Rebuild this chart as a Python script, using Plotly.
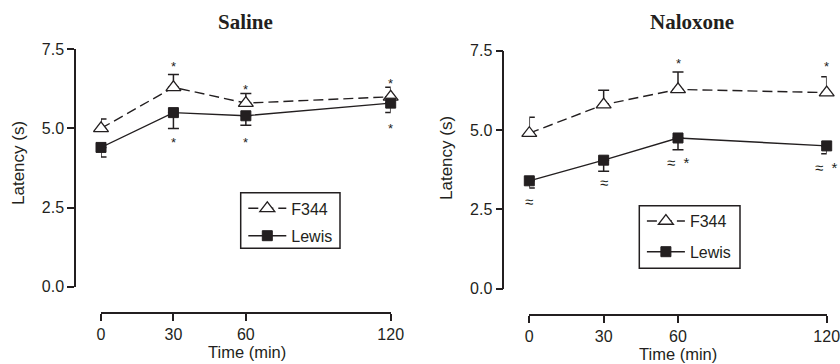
import plotly.graph_objects as go

# ---------------- data ----------------
time_min = [0, 30, 60, 120]
x_ticks = [0, 30, 60, 120]
y_ticks = [0.0, 2.5, 5.0, 7.5]
y_tick_text = ["0.0", "2.5", "5.0", "7.5"]

saline_f344 = [5.0, 6.3, 5.8, 6.0]
saline_f344_err = [0.3, 0.4, 0.3, 0.3]
saline_lewis = [4.4, 5.5, 5.4, 5.8]
saline_lewis_err = [0.3, 0.5, 0.3, 0.3]

naloxone_f344 = [4.9, 5.8, 6.28, 6.18]
naloxone_f344_err = [0.5, 0.45, 0.55, 0.5]
naloxone_lewis = [3.4, 4.05, 4.75, 4.5]
naloxone_lewis_err = [0.23, 0.35, 0.37, 0.25]

# significance marks: (time, latency, text)
saline_marks = [(30, 7.04, "*"), (60, 6.34, "*"), (120, 6.51, "*"),
                (30, 4.64, "*"), (60, 4.64, "*"), (120, 5.09, "*")]
naloxone_marks = [(60, 7.19, "*"), (120, 7.10, "*"),
                  (0, 2.74, "≈"), (30, 3.34, "≈"),
                  (60, 3.97, "≈\u00a0\u00a0*"), (120, 3.81, "≈\u00a0\u00a0*")]

panel_titles = ["Saline", "Naloxone"]
series_names = ["F344", "Lewis"]
x_title = "Time (min)"
y_title = "Latency (s)"

# ---------------- style ----------------
W, H = 840, 364
INK = "#231f20"
SANS = "Liberation Sans, Arial, sans-serif"
SERIF = "Liberation Serif, Times New Roman, serif"


def fx(p):
    return p / W


def fy(p):
    return 1 - p / H


fig = go.Figure()


def add_panel(xa, ya, f_vals, f_err, l_vals, l_err, legend):
    fig.add_trace(go.Scatter(
        x=time_min, y=f_vals, name=series_names[0], mode="lines+markers",
        xaxis=xa, yaxis=ya, legend=legend, legendgroup=legend + "f",
        cliponaxis=False,
        line=dict(color=INK, width=1.4, dash="10px,5px"),
        marker=dict(symbol="triangle-up", size=13, color="white",
                    line=dict(color=INK, width=1.3)),
        error_y=dict(type="data", symmetric=False, array=f_err,
                     arrayminus=[0] * len(f_err), color=INK,
                     thickness=1.5, width=5.5),
    ))
    fig.add_trace(go.Scatter(
        x=time_min, y=l_vals, name=series_names[1], mode="lines+markers",
        xaxis=xa, yaxis=ya, legend=legend, legendgroup=legend + "l",
        cliponaxis=False,
        line=dict(color=INK, width=1.4),
        marker=dict(symbol="square", size=10, color=INK,
                    line=dict(color=INK, width=1)),
        error_y=dict(type="data", symmetric=False, array=[0] * len(l_err),
                     arrayminus=l_err, color=INK, thickness=1.5, width=5.5),
    ))


add_panel("x", "y", saline_f344, saline_f344_err, saline_lewis,
          saline_lewis_err, "legend")
add_panel("x2", "y2", naloxone_f344, naloxone_f344_err, naloxone_lewis,
          naloxone_lewis_err, "legend2")

axis_common = dict(showgrid=False, zeroline=False, showline=True,
                   linecolor=INK, linewidth=1.5, ticks="outside",
                   ticklen=7, tickwidth=1.5, tickcolor=INK,
                   tickfont=dict(family=SANS, size=16, color=INK),
                   ticklabeloverflow="allow", automargin=False)

legend_common = dict(xanchor="left", yanchor="top", borderwidth=0,
                     bgcolor="rgba(0,0,0,0)",
                     font=dict(family=SANS, size=16, color=INK),
                     itemwidth=38, traceorder="grouped")

fig.update_layout(
    width=W, height=H,
    margin=dict(l=0, r=0, t=0, b=0),
    paper_bgcolor="white", plot_bgcolor="white",
    font=dict(family=SANS, size=16, color=INK),
    xaxis=dict(axis_common, domain=[fx(101), fx(390.7)], range=[0, 120],
               tickvals=x_ticks, anchor="free", position=fy(313.3)),
    yaxis=dict(axis_common, domain=[fy(286.7), fy(49.3)], range=[0, 7.5],
               tickvals=y_ticks, ticktext=y_tick_text, anchor="free",
               position=fx(75)),
    xaxis2=dict(axis_common, domain=[fx(529.3), fx(826.7)], range=[0, 120],
                tickvals=x_ticks, anchor="free", position=fy(315)),
    yaxis2=dict(axis_common, domain=[fy(288.7), fy(50.7)], range=[0, 7.5],
                tickvals=y_ticks, ticktext=y_tick_text, anchor="free",
                position=fx(503.3)),
    legend=dict(legend_common, x=fx(243.3), y=fy(191.4), tracegroupgap=3.6),
    legend2=dict(legend_common, x=fx(641.9), y=fy(204.1), tracegroupgap=6.9),
    showlegend=True,
    shapes=[
        dict(type="rect", xref="paper", yref="paper",
             x0=fx(240.7), x1=fx(340), y0=fy(248.3), y1=fy(192.7),
             line=dict(color=INK, width=1.5), fillcolor="white",
             layer="above"),
        dict(type="rect", xref="paper", yref="paper",
             x0=fx(639.3), x1=fx(740), y0=fy(268.3), y1=fy(205.7),
             line=dict(color=INK, width=1.5), fillcolor="white",
             layer="above"),
    ],
)

ann = []
# panel titles
for title, cx in zip(panel_titles, [245.7, 691.7]):
    ann.append(dict(text="<b>%s</b>" % title, x=fx(cx), y=fy(21.7),
                    xref="paper", yref="paper", showarrow=False,
                    xanchor="center", yanchor="middle",
                    font=dict(family=SERIF, size=21, color=INK)))
# axis titles
for cx, cy in [(247.3, 351.7), (678.3, 354.0)]:
    ann.append(dict(text=x_title, x=fx(cx), y=fy(cy), xref="paper",
                    yref="paper", showarrow=False, xanchor="center",
                    yanchor="middle",
                    font=dict(family=SANS, size=16.5, color=INK)))
for cx, cy in [(18, 163), (446.7, 158.3)]:
    ann.append(dict(text=y_title, x=fx(cx), y=fy(cy), xref="paper",
                    yref="paper", showarrow=False, textangle=-90,
                    xanchor="center", yanchor="middle",
                    font=dict(family=SANS, size=17, color=INK)))
# significance marks
for marks, xr, yr in [(saline_marks, "x", "y"), (naloxone_marks, "x2", "y2")]:
    for t, v, txt in marks:
        star_only = txt == "*"
        ann.append(dict(text=txt, x=t, y=v, xref=xr, yref=yr,
                        showarrow=False, xanchor="center", yanchor="middle",
                        yshift=-3 if star_only else 0,
                        font=dict(family=SANS, size=13 if star_only else 15,
                                  color=INK)))
fig.update_layout(annotations=ann)

fig.write_html("out.html",
               config={"displayModeBar": False},
               post_script="document.body.style.margin='0';")
